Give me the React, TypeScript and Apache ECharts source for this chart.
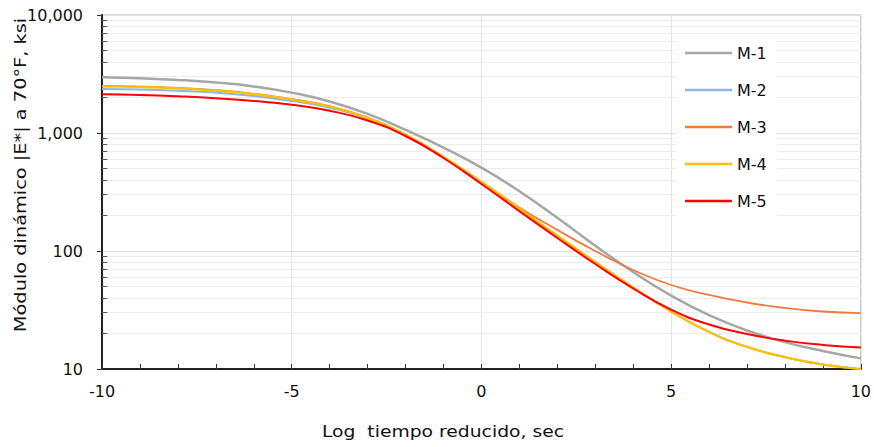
import React, { useEffect, useRef } from "react";
import * as echarts from "echarts";

const xValues = [-10, -9, -8, -7, -6, -5, -4, -3, -2, -1, 0, 1, 2, 3, 4, 5, 6, 7, 8, 9, 10];
const m1 = [2965, 2911, 2818, 2679, 2483, 2198, 1849, 1452, 1064, 753, 509, 321, 191, 111, 66.4, 41.9, 28.6, 21.2, 16.9, 14.2, 12.3];
const m2 = [2360, 2337, 2283, 2200, 2058, 1867, 1638, 1314, 947, 620, 382, 229, 135, 80.7, 49.1, 30.7, 20.6, 15.4, 12.6, 10.9, 10.0];
const m3 = [2510, 2475, 2410, 2310, 2150, 1940, 1690, 1350, 970, 630, 387, 234, 151, 100, 69.0, 51.5, 42.4, 36.6, 32.9, 30.7, 29.8];
const m4 = [2488, 2454, 2388, 2288, 2133, 1923, 1677, 1340, 962, 626, 384, 229, 135, 80.7, 49.1, 30.7, 20.6, 15.4, 12.6, 10.9, 10.0];
const m5 = [2128, 2099, 2046, 1972, 1871, 1734, 1543, 1276, 943, 614, 370, 218, 129, 77.6, 48.1, 31.9, 23.8, 19.8, 17.4, 16.0, 15.2];

const seriesNames = ["M-1", "M-2", "M-3", "M-4", "M-5"];
const seriesValues = [m1, m2, m3, m4, m5];
const seriesColors = ["#a6a6a6", "#8fb4e3", "#f07c3c", "#ffc000", "#ff0000"];
const seriesWidths = [2.5, 2, 1.8, 2.2, 2];

const minorValues = [20, 30, 40, 50, 60, 70, 80, 90, 200, 300, 400, 500, 600, 700, 800, 900, 2000, 3000, 4000, 5000, 6000, 7000, 8000, 9000];

const yTitle = "Módulo dinámico |E*| a 70°F, ksi";
const xTitle = "Log  tiempo reducido, sec";

const FONT = "DejaVu Sans";

export default function App() {
  const ref = useRef<HTMLDivElement>(null);

  useEffect(() => {
    if (!ref.current) return;
    const chart = echarts.init(ref.current, null, { renderer: "svg" });

    const gridLines = minorValues.map((v) => ({
      yAxis: v,
      lineStyle: { color: "#ececec", width: 1, type: "solid" as const },
    }));
    const minorTicks = minorValues.map((v) => [
      { coord: [-10, v], lineStyle: { color: "#555", width: 1, type: "solid" as const } },
      { coord: [-9.86, v] },
    ]);

    const lineSeries = seriesNames.map((name, i) => ({
      name,
      type: "line" as const,
      data: xValues.map((x, j) => [x, seriesValues[i][j]]),
      smooth: 0.5,
      symbol: "none",
      showSymbol: false,
      lineStyle: { color: seriesColors[i], width: seriesWidths[i] },
      itemStyle: { color: seriesColors[i] },
      z: 3 + i,
    }));

    chart.setOption({
      animation: false,
      backgroundColor: "#ffffff",
      grid: {
        left: 102,
        right: 8,
        top: 15,
        bottom: 78,
        show: true,
        borderColor: "#b4b4b4",
        borderWidth: 1,
      },
      legend: {
        data: seriesNames.map((n) => ({ name: n, icon: "rect" })),
        orient: "vertical",
        left: 676,
        top: 35,
        padding: [10, 10, 12, 9],
        itemWidth: 47,
        itemHeight: 2.5,
        itemGap: 21,
        backgroundColor: "#ffffff",
        textStyle: { fontSize: 16, color: "#111", fontFamily: FONT },
        z: 10,
      },
      xAxis: {
        type: "value",
        min: -10,
        max: 10,
        interval: 5,
        axisLine: { show: true, onZero: false, lineStyle: { color: "#222", width: 2 } },
        axisTick: { show: true, inside: true, length: 5, lineStyle: { color: "#333" } },
        minorTick: { show: true, splitNumber: 5, length: 5, lineStyle: { color: "#333" } },
        axisLabel: { margin: 14, fontSize: 16, color: "#111", fontFamily: FONT },
        splitLine: { show: true, lineStyle: { color: "#e4e4e4", width: 1 } },
      },
      yAxis: {
        type: "log",
        logBase: 10,
        min: 10,
        max: 10000,
        axisLine: { show: true, onZero: false, lineStyle: { color: "#222", width: 2 } },
        axisTick: { show: true, length: 5, lineStyle: { color: "#333" } },
        axisLabel: {
          margin: 19,
          fontSize: 16,
          color: "#111",
          fontFamily: FONT,
          formatter: (v: number) => Math.round(v).toLocaleString("en-US"),
        },
        splitLine: { show: true, lineStyle: { color: "#e0e0e0", width: 1 } },
      },
      graphic: [
        {
          type: "text",
          x: 21,
          y: 175,
          rotation: Math.PI / 2,
          scaleX: 1.29,
          style: {
            text: yTitle,
            fill: "#111",
            fontSize: 15,
            fontFamily: FONT,
            align: "center",
            verticalAlign: "middle",
          },
        },
        {
          type: "text",
          x: 443,
          y: 432,
          scaleX: 1.25,
          style: {
            text: xTitle,
            fill: "#111",
            fontSize: 15,
            fontFamily: FONT,
            align: "center",
            verticalAlign: "middle",
          },
        },
      ],
      series: [
        {
          name: "grid-helper",
          type: "line",
          data: [],
          silent: true,
          z: 1,
          markLine: {
            silent: true,
            symbol: ["none", "none"],
            label: { show: false },
            z: 1,
            animation: false,
            data: [...gridLines, ...minorTicks],
          },
        },
        ...lineSeries,
      ],
    });

    return () => chart.dispose();
  }, []);

  return (
    <div
      ref={ref}
      style={{ position: "fixed", left: 0, top: 0, width: 874, height: 447, background: "#fff" }}
    />
  );
}
